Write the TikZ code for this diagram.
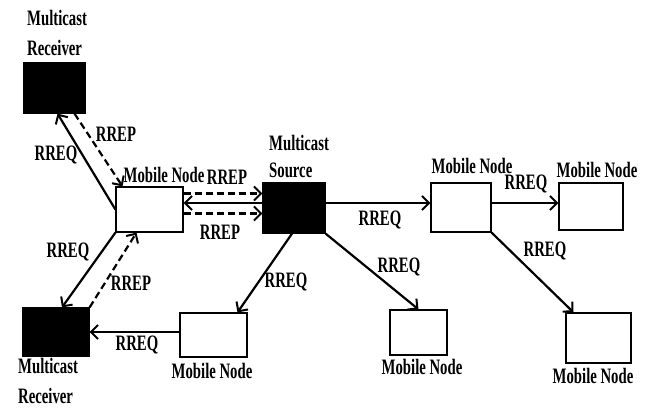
\documentclass[tikz,border=0pt]{standalone}
\usepackage{fontspec}
\setmainfont{Liberation Serif}[FakeStretch=0.67]
\usetikzlibrary{arrows.meta}
\tikzset{
  box/.style={draw=black, line width=1.2pt, fill=white, inner sep=0pt},
  blackbox/.style={draw=black, line width=1.2pt, fill=black, inner sep=0pt},
  txt/.style={inner sep=0pt, font=\fontsize{22}{30}\selectfont\bfseries},
  req/.style={line width=2.2pt, -{Straight Barb[length=7pt,width=14pt,line width=2pt]}},
  rep/.style={req, dash pattern=on 7pt off 4pt},
}
\begin{document}
\begin{tikzpicture}[x=1pt,y=-1pt]
\useasboundingbox (0,0) rectangle (650,407);
% boxes
\node[blackbox, minimum width=61pt, minimum height=50pt] (R1) at (54.5,88) {};
\node[box, minimum width=67pt, minimum height=45pt] (M1) at (149.5,209.5) {};
\node[blackbox, minimum width=62pt, minimum height=50pt] (S) at (294,208) {};
\node[blackbox, minimum width=66pt, minimum height=48pt] (R2) at (56,332) {};
\node[box, minimum width=67pt, minimum height=44pt] (M2) at (213.5,335) {};
\node[box, minimum width=60pt, minimum height=49pt] (M3) at (461,207.5) {};
\node[box, minimum width=64pt, minimum height=47pt] (M4) at (591,206.5) {};
\node[box, minimum width=57pt, minimum height=45pt] (M5) at (418.5,332.5) {};
\node[box, minimum width=65pt, minimum height=50pt] (M6) at (598.5,338) {};
% box labels
\node[txt, align=left, anchor=west] (lR1) at (27,33) {Multicast\\Receiver};
\node[txt, align=left, anchor=west, font=\fontsize{22}{27}\selectfont\bfseries] (lS) at (269,156.5) {Multicast\\Source};
\node[txt, align=left, anchor=west] (lR2) at (18,381) {Multicast\\Receiver};
\node[txt] (lM1) at (164,175) {Mobile Node};
\node[txt] (lM2) at (212,371) {Mobile Node};
\node[txt] (lM3) at (472,166) {Mobile Node};
\node[txt] (lM4) at (597,170) {Mobile Node};
\node[txt] (lM5) at (422,367) {Mobile Node};
\node[txt] (lM6) at (593,376) {Mobile Node};
% connectors
\draw[req] (M1.west) -- ([xshift=3pt]R1.south);
\draw[rep] ([xshift=20pt]R1.south) -- ([xshift=-27pt]M1.north);
\draw[rep] ([yshift=16pt]M1.east) -- ([yshift=16pt]M1.east -| S.west);
\draw[req] ([yshift=5pt]S.west) -- ([yshift=5pt]S.west -| M1.east);
\draw[rep] ([yshift=-4pt]M1.east) -- ([yshift=-4pt]M1.east -| S.west);
\draw[req] (M1.south west) -- ([xshift=6pt]R2.north);
\draw[rep] (R2.north east) -- ([xshift=-13pt]M1.south);
\draw[req] (R2.east -| M2.west) -- (R2.east);
\draw[req] ([xshift=-2pt]S.south) -- ([xshift=24pt]M2.north);
\draw[req] (S.south east) -- (M5.north);
\draw[req] ([yshift=5pt]S.east) -- ([yshift=5pt]S.east -| M3.west);
\draw[req] ([yshift=4.5pt]M3.east) -- ([yshift=4.5pt]M3.east -| M4.west);
\draw[req] (M3.south east) -- ([xshift=-25pt]M6.north);
% connector labels
\node[txt] (a1) at (56,155) {RREQ};
\node[txt] (a2) at (116,134) {RREP};
\node[txt] (a3) at (227,177) {RREP};
\node[txt] (a4) at (220,232) {RREP};
\node[txt] (a5) at (68,252) {RREQ};
\node[txt] (a6) at (131,283) {RREP};
\node[txt] (a7) at (137,345) {RREQ};
\node[txt] (a8) at (286,282) {RREQ};
\node[txt] (a9) at (380,220) {RREQ};
\node[txt] (a10) at (399,267) {RREQ};
\node[txt] (a11) at (526,184) {RREQ};
\node[txt] (a12) at (545,251) {RREQ};
\end{tikzpicture}
\end{document}
